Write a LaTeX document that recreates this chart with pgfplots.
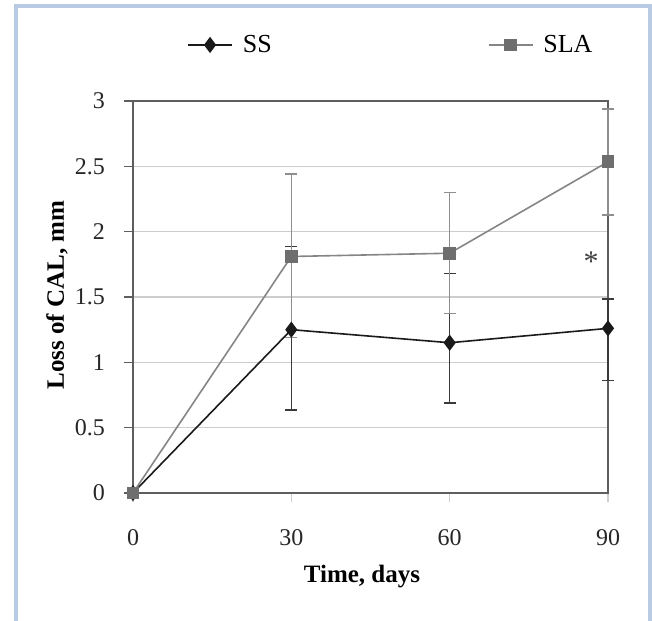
\documentclass[border=0pt]{standalone}
\usepackage{pgfplots}
\pgfplotsset{compat=1.18}
\usepackage{fontspec}
\setmainfont{Liberation Serif}

\definecolor{frameblue}{HTML}{B9CBE3}
\definecolor{axisgray}{HTML}{5E5E5E}
\definecolor{gridgray}{HTML}{CDCDCD}
\definecolor{ssline}{HTML}{1A1A1A}
\definecolor{sserr}{HTML}{3A3A3A}
\definecolor{slaline}{HTML}{858585}
\definecolor{slamark}{HTML}{6E6E6E}
\definecolor{slaerr}{HTML}{8E8E8E}

% x = day, y = mean loss, ep / em = error bar up / down
\pgfplotstableread{
x  y     ep     em
0  0     0      0
30 1.25  0.635  0.615
60 1.15  0.53   0.46
90 1.26  0.225  0.40
}\ss
\pgfplotstableread{
x  y     ep     em
0  0     0      0
30 1.81  0.63   0.62
60 1.835 0.465  0.46
90 2.535 0.405  0.408
}\sla

\begin{document}
\begin{tikzpicture}
\path[use as bounding box] (0,0) rectangle (326pt,310pt);
% light blue frame round the figure
\draw[frameblue, line width=2pt] (8pt,-2pt) -- (8pt,307pt) -- (325pt,307pt) -- (325pt,-2pt);

\begin{axis}[
  at={(66.5pt,63.5pt)}, anchor=south west,
  scale only axis,
  width=237.5pt, height=196pt,
  xmin=0, xmax=90, ymin=0, ymax=3,
  xtick={0,30,60,90}, ytick={0,0.5,...,3},
  yticklabels={0,0.5,1,1.5,2,2.5,3},
  axis line style={axisgray, line width=0.9pt},
  ymajorgrids, grid style={gridgray, line width=0.6pt},
  tick align=outside, major tick length=4.5pt,
  x tick style={gridgray, line width=0.6pt},
  y tick style={axisgray, line width=0.6pt},
  xtick pos=bottom, ytick pos=left,
  /pgf/number format/assume math mode=true,
  ticklabel style={font=\fontsize{12}{14}\selectfont, text=black!85},
  xticklabel style={yshift=-10pt},
  yticklabel style={xshift=-6pt},
  xlabel={\textbf{Time, days}},
  ylabel={\textbf{Loss of CAL, mm}},
  label style={font=\fontsize{12.5}{14}\selectfont},
  xlabel style={at={(axis description cs:0.482,-0.214)}, anchor=center},
  ylabel style={at={(axis description cs:-0.16,0.505)}, anchor=center},
  clip=false,
  legend columns=2,
  legend image code/.code={
    \draw[mark repeat=2, mark phase=2, #1] plot coordinates {(0pt,0pt) (11pt,0pt) (22pt,0pt)};},
  legend style={draw=none, fill=none, at={(axis description cs:0.545,1.143)}, anchor=center,
    font=\fontsize{13}{15}\selectfont,
    /tikz/every even column/.append style={column sep=106pt}},
]
\addplot[ssline, line width=0.8pt, mark=diamond*, mark size=3.4pt,
  mark options={fill=ssline, draw=ssline},
  error bars/.cd, y dir=both, y explicit,
  error bar style={sserr, line width=0.6pt},
  error mark options={rotate=90, mark size=3pt, sserr, line width=0.7pt}]
  table[x=x, y=y, y error plus=ep, y error minus=em] {\ss};
\addlegendentry{\hspace{3pt}SS}

\addplot[slaline, line width=0.8pt, mark=square*, mark size=2.8pt,
  mark options={fill=slamark, draw=slamark},
  error bars/.cd, y dir=both, y explicit,
  error bar style={slaerr, line width=0.6pt},
  error mark options={rotate=90, mark size=3pt, slaerr, line width=0.7pt}]
  table[x=x, y=y, y error plus=ep, y error minus=em] {\sla};
\addlegendentry{\hspace{3pt}SLA}

\node[font=\fontsize{15}{17}\selectfont, text=black!75] at (axis cs:86.8,1.77) {*};
\end{axis}
\end{tikzpicture}
\end{document}
